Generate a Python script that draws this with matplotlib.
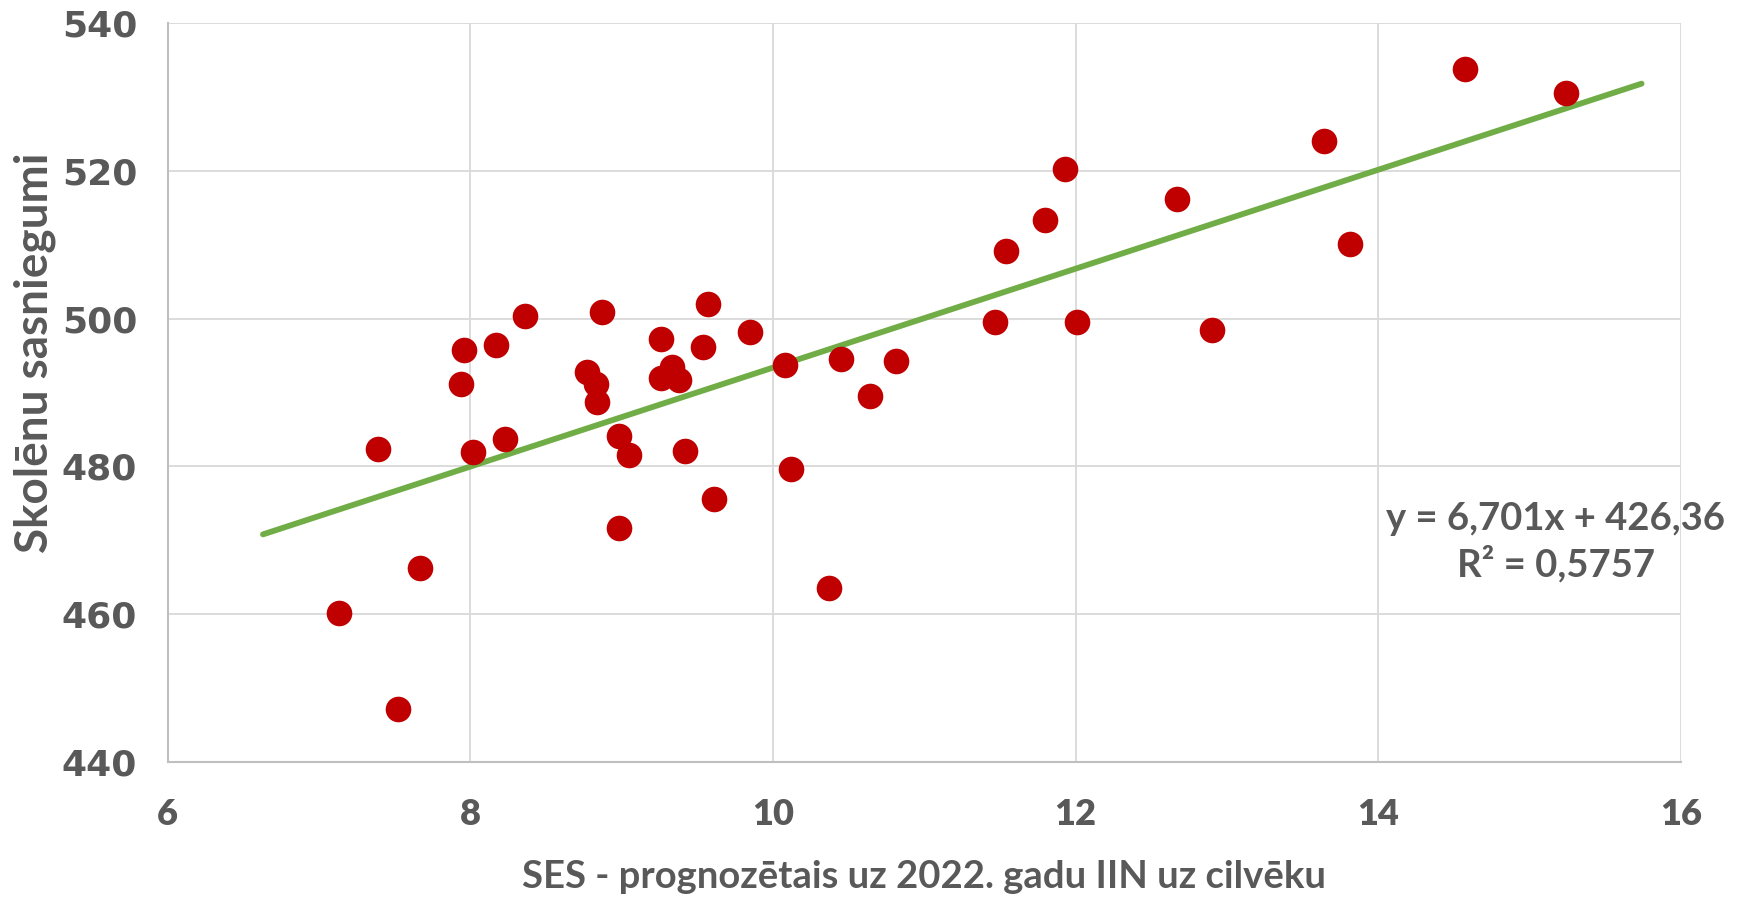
import numpy as np
import matplotlib
matplotlib.use("Agg")
import matplotlib.pyplot as plt

# SES (projected 2022 GNI per capita) vs student achievement
ses = [7.13, 7.39, 7.52, 7.67, 7.96, 7.94, 8.02, 8.17, 8.23, 8.36,
       8.77, 8.83, 8.84, 8.87, 8.98, 9.05, 8.98, 9.26, 9.26, 9.33,
       9.38, 9.42, 9.57, 9.54, 9.61, 9.85, 10.08, 10.12, 10.37, 10.45,
       10.64, 10.81, 11.47, 11.54, 11.80, 11.93, 12.01, 12.67, 12.90, 13.64,
       13.81, 14.57, 15.24]
score = [460.2, 482.4, 447.1, 466.2, 495.8, 491.1, 482.0, 496.4, 483.7, 500.3,
         492.8, 491.1, 488.7, 500.9, 484.1, 481.5, 471.6, 497.3, 491.9, 493.5,
         491.7, 482.1, 502.0, 496.1, 475.6, 498.2, 493.7, 479.7, 463.5, 494.6,
         489.5, 494.3, 499.5, 509.2, 513.4, 520.3, 499.5, 516.2, 498.5, 524.1,
         510.1, 533.8, 530.5]

slope = 6.701
intercept = 426.36
r2 = 0.5757
forecast = 0.5  # trendline extends past data on both sides

x_ticks = [6, 8, 10, 12, 14, 16]
y_ticks = [440, 460, 480, 500, 520, 540]

text_col = "#595959"
narrow = ["Lato", "DejaVu Sans"]

fig = plt.figure(figsize=(17.41, 8.98), dpi=100)
ax = fig.add_axes([0.0963, 0.1518, 0.8692, 0.8222])

ax.scatter(ses, score, s=340, color="#C00000", zorder=3, linewidths=0)

tx = np.array([min(ses) - forecast, max(ses) + forecast])
ax.plot(tx, slope * tx + intercept, color="#70AD47", lw=4.2, zorder=2,
        solid_capstyle="round")

ax.set_xlim(6, 16)
ax.set_ylim(440, 540)
ax.set_xticks(x_ticks)
ax.set_yticks(y_ticks)
ax.grid(True, color="#D9D9D9", lw=1.3, zorder=0)
ax.set_axisbelow(True)
for s in ["top", "right"]:
    ax.spines[s].set_visible(False)
for s in ["left", "bottom"]:
    ax.spines[s].set_color("#BFBFBF")
    ax.spines[s].set_linewidth(1.5)
ax.tick_params(length=0)
ax.tick_params(axis="x", pad=26, labelsize=26, labelcolor=text_col)
ax.tick_params(axis="y", pad=22, labelsize=26, labelcolor=text_col)
for lab in ax.get_xticklabels():
    lab.set_family(narrow)
    lab.set_fontweight("heavy")
for lab in ax.get_yticklabels():
    lab.set_family("DejaVu Sans")
    lab.set_fontweight("bold")

fig.text(0.5306, 0.0235, "SES - prognozētais uz 2022. gadu IIN uz cilvēku",
         ha="center", va="center", fontsize=27.5, fontweight="bold",
         color=text_col, family=narrow)
fig.text(0.02, 0.607, "Skolēnu sasniegumi", rotation=90,
         ha="center", va="center", fontsize=33, fontweight="bold",
         color=text_col, family=narrow)

eq = "y = {:.3f}x + {:.2f}".format(slope, intercept).replace(".", ",")
r2_txt = "R² = {:.4f}".format(r2).replace(".", ",")
fig.text(0.8935, 0.396, eq + "\n" + r2_txt,
         ha="center", va="center", fontsize=27.5, fontweight="bold",
         color=text_col, family=narrow, linespacing=1.3)

fig.savefig("out.png", dpi=100)
